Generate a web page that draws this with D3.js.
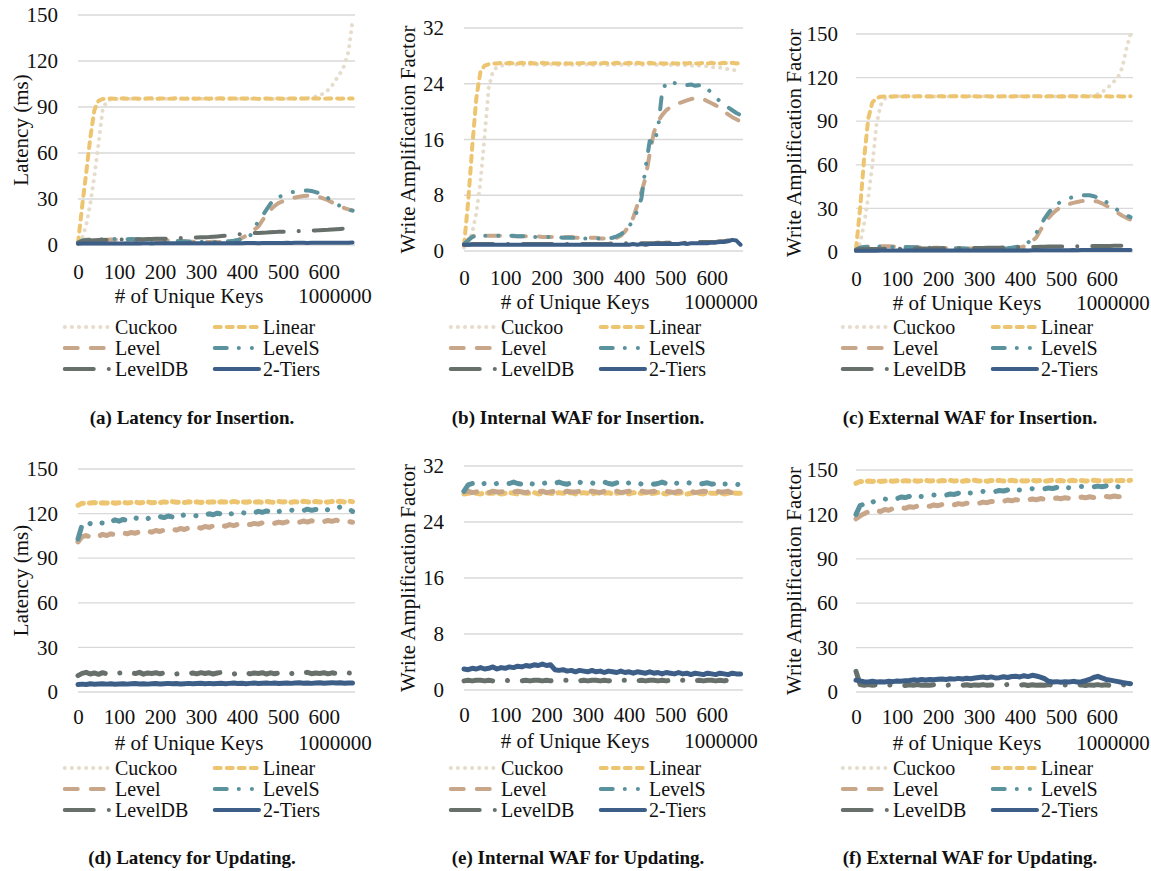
<!DOCTYPE html>
<html>
<head>
<meta charset="utf-8">
<script src="https://cdn.jsdelivr.net/npm/d3@7"></script>
<style>
  body { margin: 0; background: #fff; }
  text { font-family: "Liberation Serif", "Times New Roman", serif; fill: #111; }
</style>
</head>
<body>
<div id="chart"></div>
<script>
// x categories (# of unique keys, in units of 1000000)
var keys = [0,10,20,30,40,50,60,70,80,90,
  100,110,120,130,140,150,160,170,180,190,
  200,210,220,230,240,250,260,270,280,290,
  300,310,320,330,340,350,360,370,380,390,
  400,410,420,430,440,450,460,470,480,490,
  500,510,520,530,540,550,560,570,580,590,
  600,610,620,630,640,650,660,670];

var seriesNames = ["Cuckoo", "Linear", "Level", "LevelS", "LevelDB", "2-Tiers"];
var xTicks = [0, 100, 200, 300, 400, 500, 600];
var latTicks = [0, 30, 60, 90, 120, 150];
var wafTicks = [0, 8, 16, 24, 32];

// (a) latency for insertion
var aCuckoo = [2,4,13,27,45,66,88,94,95,95.2,
  95.3,95.2,95.4,95.3,95.2,95.4,95.3,95.2,95.3,95.4,
  95.3,95.2,95.4,95.3,95.2,95.3,95.4,95.3,95.2,95.3,
  95.4,95.3,95.2,95.3,95.4,95.3,95.2,95.3,95.4,95.3,
  95.2,95.3,95.4,95.3,95.2,95.3,95.4,95.3,95.2,95.3,
  95.4,95.3,95.3,95.4,95.5,95.6,95.8,96.2,96.8,97.6,
  99,101,104,108,112,117,126,146];
var aLinear = [1,25,47,70,88,94,95.2,95.5,95.6,95.4,
  95.5,95.7,95.4,95.6,95.5,95.4,95.6,95.5,95.7,95.4,
  95.5,95.6,95.4,95.5,95.7,95.5,95.4,95.6,95.5,95.4,
  95.6,95.5,95.4,95.6,95.5,95.7,95.4,95.5,95.6,95.4,
  95.5,95.6,95.4,95.5,95.3,95.5,95.6,95.4,95.5,95.6,
  95.4,95.5,95.6,95.5,95.4,95.6,95.5,95.4,95.6,95.5,
  95.4,95.6,95.5,95.6,95.4,95.5,95.6,95.5];
var aLevel = [1,3,3.5,3.5,3.6,3.5,3.4,3.5,3.6,3.5,
  3.5,3.4,3.5,3.6,3.5,3.4,3.3,3.4,3.5,3.4,
  3.3,3.2,3.0,2.8,2.6,2.4,2.3,2.2,2.2,2.1,
  2.1,2.0,2.0,2.1,2.0,2.0,2.1,2.3,2.6,3.2,
  4.6,6,8,10,12,16,20,23,25.5,27.5,
  28.5,29.6,30.4,31.0,31.5,31.9,32.2,32.2,31.9,31.2,
  30.3,29.2,27.8,26.5,25.2,24.1,23.2,22.6];
var aLevelS = [1.5,3,3.2,3.4,3.5,3.6,3.7,3.8,3.8,3.9,
  3.9,3.9,3.8,3.9,3.8,3.7,3.6,3.5,3.3,3.1,
  3.0,2.9,2.8,2.7,2.6,2.5,2.4,2.3,2.2,2.2,
  2.1,2.0,2.0,2.0,2.0,2.1,2.3,2.5,2.8,3.2,
  3.8,4.2,6,10,16,19,23,27,30,31.3,
  32.4,33.5,34.3,34.8,35.1,35.4,35.6,35.2,34.5,33.6,
  32.3,30.6,28.7,27,25.3,24,22.9,22.4];
var aLevelDB = [1.5,2.5,3,3,3.1,3.2,3.3,3.3,3.4,3.5,
  3.5,3.6,3.6,3.7,3.7,3.8,3.8,3.9,3.9,4.0,
  4.0,4.1,4.2,4.3,4.4,4.5,4.6,4.7,4.8,4.9,
  5.0,5.1,5.2,5.4,5.6,5.8,6.0,6.3,6.6,6.9,
  7.2,7.4,7.6,7.8,7.9,8.0,8.1,8.3,8.4,8.6,
  8.7,8.8,8.9,9.0,9.1,9.2,9.3,9.4,9.5,9.7,
  9.8,9.9,10.1,10.3,10.5,10.7,10.9,11.1];
var aTiers = [0.8,0.9,0.9,0.9,1.0,1.0,1.0,1.0,1.0,1.0,
  1.0,1.0,1.1,1.0,1.1,1.0,1.1,1.1,1.0,1.1,
  1.1,1.1,1.1,1.1,1.1,1.2,1.1,1.1,1.2,1.1,
  1.2,1.2,1.1,1.2,1.2,1.2,1.2,1.2,1.2,1.3,
  1.2,1.3,1.3,1.3,1.2,1.3,1.3,1.3,1.3,1.3,
  1.3,1.4,1.3,1.4,1.4,1.4,1.3,1.4,1.4,1.4,
  1.4,1.5,1.4,1.5,1.5,1.5,1.5,1.6];

// (b) internal WAF for insertion
var bCuckoo = [0.5,1.0,2.6,5.5,10,16.5,23.5,25.8,26.4,26.6,
  26.7,26.8,26.7,26.8,26.7,26.7,26.8,26.7,26.8,26.7,
  26.7,26.8,26.7,26.7,26.8,26.7,26.7,26.8,26.7,26.7,
  26.8,26.7,26.7,26.8,26.7,26.7,26.8,26.7,26.7,26.8,
  26.7,26.7,26.8,26.7,26.7,26.8,26.7,26.7,26.7,26.8,
  26.7,26.7,26.7,26.6,26.7,26.6,26.6,26.6,26.5,26.5,
  26.4,26.3,26.3,26.2,26.1,26.0,25.9,25.8];
var bLinear = [0.8,7,15,22,25.8,26.6,26.8,26.9,26.9,27.0,
  26.9,27.0,26.9,26.9,27.0,26.9,27.0,26.9,26.9,27.0,
  26.9,27.0,26.9,26.9,27.0,26.9,26.9,27.0,26.9,27.0,
  26.9,26.9,27.0,26.9,27.0,26.9,26.9,27.0,26.9,26.9,
  27.0,26.9,27.0,26.9,26.9,27.0,26.9,27.0,26.9,26.9,
  27.0,26.9,26.9,27.0,26.9,27.0,26.9,26.9,27.0,26.9,
  27.0,26.9,26.9,27.0,26.9,27.0,26.9,27.0];
var bLevel = [1.0,1.6,2.1,2.2,2.2,2.2,2.2,2.2,2.2,2.2,
  2.2,2.2,2.1,2.1,2.1,2.1,2.1,2.1,2.1,2.0,
  2.0,2.0,2.0,2.0,2.0,2.0,2.0,1.9,1.9,1.9,
  1.9,1.9,1.9,1.8,1.8,1.8,1.8,1.9,2.2,2.8,
  3.6,4.8,6.6,8.5,10.5,14,17,18.6,19.5,20.2,
  20.6,20.9,21.2,21.4,21.6,21.8,21.9,21.9,21.8,21.5,
  21.2,20.9,20.5,20.0,19.6,19.2,18.9,18.6];
var bLevelS = [1.0,1.5,2.0,2.2,2.2,2.2,2.2,2.3,2.2,2.2,
  2.2,2.2,2.2,2.1,2.1,2.1,2.1,2.0,2.0,2.0,
  2.0,2.0,2.0,2.0,1.9,1.9,1.9,1.9,1.9,1.8,
  1.8,1.8,1.8,1.8,1.7,1.8,1.9,2.1,2.4,2.9,
  3.5,4.5,5.8,7.6,12,15.8,15.4,17.5,22.8,24.2,
  24.4,24.1,23.9,24.0,23.8,23.9,23.7,23.8,23.5,23.3,
  22.6,22.0,21.5,21.0,20.6,20.2,19.8,19.5];
var bLevelDB = [0.9,0.9,1.0,1.0,1.0,1.0,1.0,1.0,1.0,1.0,
  1.0,1.0,1.0,1.0,1.0,1.0,1.0,1.0,1.0,1.0,
  1.0,1.0,1.0,1.0,1.0,1.0,1.0,1.0,1.0,1.0,
  1.0,1.0,1.0,1.0,1.0,1.0,1.1,1.0,1.1,1.1,
  1.1,1.1,1.1,1.1,1.1,1.1,1.1,1.2,1.1,1.2,
  1.2,1.2,1.2,1.2,1.2,1.3,1.2,1.3,1.3,1.3,
  1.3,1.3,1.4,1.4,1.5,1.5,1.4,1.2];
var bTiers = [0.9,0.9,0.9,0.9,0.9,0.9,0.9,0.9,0.9,0.9,
  0.9,0.9,0.9,0.9,0.9,0.9,0.9,0.9,0.9,0.9,
  0.9,0.9,0.9,0.9,0.9,0.9,0.9,0.9,0.9,0.9,
  0.9,0.9,0.9,0.9,0.9,0.9,0.9,0.9,0.9,0.9,
  0.9,1.0,0.9,1.0,0.9,1.0,1.0,1.0,1.0,1.0,
  1.0,1.0,1.0,1.1,1.0,1.1,1.1,1.1,1.1,1.1,
  1.2,1.2,1.3,1.3,1.4,1.6,1.5,0.9];

// (c) external WAF for insertion
var cCuckoo = [1,6,20,38,60,88,101,105.5,106.5,107,
  107.1,107.2,107.1,107.0,107.2,107.1,107.0,107.2,107.1,107.0,
  107.1,107.2,107.0,107.1,107.2,107.1,107.0,107.1,107.2,107.0,
  107.1,107.2,107.1,107.0,107.1,107.2,107.1,107.0,107.1,107.2,
  107.1,107.0,107.1,107.2,107.1,107.0,107.1,107.2,107.1,107.0,
  107.1,107.2,107.1,107.1,107.2,107.2,107.3,107.4,107.5,108.5,
  110,112,114.5,117.5,120.5,127,140,150];
var cLinear = [2,30,65,92,103,106,106.8,107,107.1,107.0,
  107.1,107.0,107.2,107.1,107.0,107.1,107.2,107.0,107.1,107.0,
  107.2,107.1,107.0,107.1,107.2,107.0,107.1,107.0,107.2,107.1,
  107.0,107.1,107.2,107.0,107.1,107.0,107.2,107.1,107.0,107.1,
  107.2,107.0,107.1,107.0,107.2,107.1,107.0,107.1,107.2,107.0,
  107.1,107.0,107.2,107.1,107.0,107.1,107.2,107.0,107.1,107.0,
  107.2,107.1,107.0,107.1,107.2,107.0,107.1,107.2];
var cLevel = [1,3,3.5,3.8,4,4,4,4,3.9,3.8,
  3.7,3.6,3.5,3.4,3.3,3.2,3.1,3.0,3.0,2.9,
  2.9,2.8,2.8,2.7,2.6,2.6,2.5,2.4,2.4,2.3,
  2.3,2.2,2.2,2.2,2.1,2.1,2.2,2.3,2.5,2.8,
  3.2,3.8,4.8,7.5,10,15,19.5,23.5,26.5,29,
  30.8,32,33,33.8,34.4,35,35.3,35.4,35.2,34.7,
  33.5,32,30.2,28.5,26.7,25,23.5,22.2];
var cLevelS = [1.5,3,3.5,3.5,3.6,3.7,3.7,3.6,3.6,3.5,
  3.5,3.4,3.4,3.3,3.3,3.2,3.1,3.0,2.9,2.8,
  2.8,2.7,2.6,2.6,2.5,2.5,2.4,2.3,2.3,2.2,
  2.2,2.2,2.1,2.1,2.1,2.2,2.3,2.6,3.0,3.4,
  3.8,4.5,6.5,9.5,13,18,23,27,30.5,32.8,
  34.6,36,37,37.8,38.4,38.9,39.1,39.0,38.4,37.5,
  36.2,34.6,32.8,30.7,28.5,26.7,25.2,24.0];
var cLevelDB = [1.5,2,2,2,2.1,2.1,2.1,2.2,2.2,2.2,
  2.2,2.3,2.3,2.3,2.3,2.4,2.4,2.4,2.4,2.5,
  2.5,2.5,2.5,2.6,2.6,2.6,2.7,2.7,2.7,2.8,
  2.8,2.8,2.9,2.9,3.0,3.0,3.1,3.1,3.2,3.2,
  3.3,3.3,3.4,3.5,3.5,3.6,3.6,3.7,3.7,3.8,
  3.8,3.8,3.9,3.9,3.9,4.0,4.0,4.0,4.1,4.1,
  4.1,4.2,4.2,4.3,4.3,4.4,4.4,4.5];
var cTiers = [0.8,0.9,0.9,0.9,0.9,0.9,1.0,1.0,1.0,1.0,
  1.0,1.0,1.0,1.0,1.0,1.0,1.0,1.0,1.0,1.0,
  1.0,1.0,1.0,1.0,1.0,1.1,1.0,1.1,1.0,1.1,
  1.1,1.1,1.1,1.1,1.1,1.1,1.1,1.1,1.1,1.1,
  1.1,1.2,1.1,1.2,1.2,1.2,1.2,1.2,1.2,1.2,
  1.2,1.2,1.2,1.3,1.2,1.3,1.3,1.3,1.3,1.3,
  1.3,1.3,1.3,1.3,1.3,1.4,1.3,1.4];

// (d) latency for updating
var dCuckoo = [];
var dLinear = [125.5,127,126.8,127.2,127.4,126.9,127.3,127.1,127.6,127.0,
  127.3,127.6,127.1,127.4,127.8,127.2,127.5,127.9,127.3,127.6,
  127.4,127.9,127.5,128.1,127.6,127.8,127.4,128.0,127.6,127.9,
  127.5,128.1,127.7,127.9,127.4,128.0,127.8,127.5,128.2,127.7,
  127.9,127.6,128.1,127.7,128.0,127.5,128.2,127.8,127.6,128.1,
  127.8,128.2,127.6,128.0,127.7,128.3,127.9,127.6,128.2,127.8,
  128.1,127.7,128.2,127.9,128.3,127.8,128.4,128.0];
var dLevel = [101,104.5,105.2,104.3,105.6,104.8,106.0,105.3,106.4,105.7,
  106.2,107.0,106.4,107.3,106.8,107.8,107.1,108.2,107.5,108.6,
  108.0,109.0,108.4,109.5,108.9,110.0,109.3,110.4,109.8,110.9,
  110.2,111.3,110.7,111.8,111.1,112.1,111.5,112.6,111.9,112.8,
  112.2,113.1,112.6,113.4,112.9,113.8,113.2,114.0,113.5,114.3,
  113.7,114.5,113.9,114.8,114.1,115.0,114.3,115.2,114.5,115.3,
  114.6,115.4,114.8,115.6,114.9,115.5,114.7,114.2];
var dLevelS = [103,112.5,114.5,113.2,115.0,114.1,113.6,115.4,114.3,115.8,
  114.9,116.1,115.3,116.5,117.2,116.0,117.4,116.6,117.9,117.1,
  118.0,117.3,118.4,117.7,118.8,118.1,119.3,118.5,119.1,118.4,
  119.5,118.8,119.9,119.2,120.3,119.6,120.1,119.4,120.6,119.9,
  120.8,120.1,121.2,120.5,121.5,120.9,121.8,121.1,122.1,121.4,
  122.0,121.3,122.4,121.7,122.6,122.0,123.0,122.2,122.8,122.1,
  123.1,122.5,123.4,122.8,124.6,122.9,123.3,121.5];
var dLevelDB = [11,12.5,13.2,12.1,12.8,11.9,13.0,12.3,12.9,12.0,
  12.7,13.1,12.2,12.9,12.4,13.2,12.0,12.8,12.5,13.0,
  12.2,12.9,12.4,13.1,12.1,12.7,13.0,12.3,12.8,12.2,
  13.0,12.4,12.9,12.1,12.8,13.2,12.3,12.7,12.0,12.9,
  12.4,13.1,12.2,12.8,12.5,13.0,12.1,12.9,12.3,12.8,
  12.2,13.1,12.4,12.9,12.0,12.7,13.2,12.3,12.8,12.5,
  13.0,12.2,12.9,12.4,13.1,12.3,12.8,12.5];
var dTiers = [5.0,5.3,5.1,5.5,5.2,5.4,5.6,5.3,5.5,5.2,
  5.4,5.6,5.3,5.5,5.7,5.4,5.6,5.3,5.5,5.7,
  5.4,5.6,5.8,5.5,5.7,5.4,5.6,5.8,5.5,5.7,
  5.9,5.6,5.8,5.5,5.7,5.9,5.6,5.8,6.0,5.7,
  5.9,5.6,5.8,6.0,5.7,5.9,6.1,5.8,6.0,5.7,
  5.9,6.1,5.8,6.0,6.2,5.9,6.1,5.8,6.0,6.2,
  5.9,6.1,6.3,6.0,6.2,5.9,6.1,6.0];

// (e) internal WAF for updating
var eCuckoo = [];
var eLinear = [28.0,28.1,28.2,28.1,28.0,28.2,28.1,28.1,28.2,28.0,
  28.1,28.2,28.1,28.0,28.2,28.1,28.1,28.2,28.0,28.1,
  28.2,28.1,28.0,28.2,28.1,28.1,28.2,28.0,28.1,28.2,
  28.1,28.0,28.2,28.1,28.1,28.2,28.0,28.1,28.2,28.1,
  28.0,28.2,28.1,28.1,28.2,28.0,28.1,28.2,28.1,28.0,
  28.2,28.1,28.1,28.2,28.0,28.1,28.2,28.1,28.0,28.2,
  28.1,28.1,28.2,28.0,28.1,28.2,28.1,28.1];
var eLevel = [28.3,28.4,28.2,28.3,28.4,28.3,28.2,28.4,28.3,28.3,
  28.4,28.2,28.3,28.4,28.3,28.2,28.4,28.3,28.3,28.4,
  28.2,28.3,28.4,28.3,28.2,28.4,28.3,28.3,28.4,28.2,
  28.3,28.4,28.3,28.2,28.4,28.3,28.3,28.4,28.2,28.3,
  28.4,28.3,28.2,28.4,28.3,28.3,28.4,28.2,28.3,28.4,
  28.3,28.2,28.4,28.3,28.3,28.4,28.2,28.3,28.4,28.3,
  28.2,28.4,28.3,28.3,28.4,28.1,27.5,27.9];
var eLevelS = [28.4,29.3,29.5,29.6,29.4,29.5,29.7,29.4,29.5,29.6,
  29.4,29.5,29.7,29.5,29.4,29.6,29.5,29.4,29.7,29.5,
  29.6,29.4,29.5,29.7,29.5,29.4,29.6,29.5,29.7,29.4,
  29.5,29.6,29.4,29.5,29.7,29.5,29.4,29.6,29.5,29.4,
  29.6,29.5,29.7,29.4,29.5,29.6,29.4,29.5,29.7,29.5,
  29.4,29.6,29.5,29.4,29.7,29.5,29.6,29.4,29.5,29.6,
  29.4,29.5,29.6,29.4,29.5,29.6,29.4,29.3];
var eLevelDB = [1.3,1.4,1.3,1.4,1.4,1.3,1.4,1.3,1.4,1.3,
  1.4,1.3,1.4,1.4,1.3,1.4,1.3,1.4,1.4,1.3,
  1.4,1.3,1.4,1.3,1.4,1.4,1.3,1.4,1.3,1.4,
  1.3,1.4,1.4,1.3,1.4,1.3,1.4,1.3,1.4,1.4,
  1.3,1.4,1.3,1.4,1.3,1.4,1.4,1.3,1.4,1.3,
  1.4,1.3,1.4,1.4,1.3,1.4,1.3,1.4,1.3,1.4,
  1.4,1.3,1.4,1.3,1.4,1.3,1.4,1.3];
var eTiers = [3.0,2.9,3.1,3.0,3.2,3.0,3.1,3.3,3.0,3.2,
  3.1,3.3,3.2,3.4,3.3,3.5,3.4,3.6,3.5,3.7,
  3.5,3.6,2.9,2.8,2.9,2.7,2.8,2.6,2.8,2.7,
  2.6,2.8,2.6,2.7,2.5,2.7,2.6,2.5,2.7,2.5,
  2.6,2.4,2.6,2.5,2.4,2.6,2.4,2.5,2.3,2.5,
  2.4,2.3,2.5,2.3,2.4,2.2,2.4,2.3,2.2,2.4,
  2.3,2.2,2.4,2.3,2.2,2.4,2.3,2.3];

// (f) external WAF for updating
var fCuckoo = [];
var fLinear = [141,142.3,142.0,142.6,142.2,142.8,142.3,142.5,142.9,142.4,
  142.7,142.3,142.8,142.5,142.9,142.4,142.7,143.0,142.5,142.8,
  142.4,142.9,142.6,143.0,142.5,142.8,142.4,142.9,142.6,143.1,
  142.5,142.8,142.4,142.9,142.6,143.0,142.5,142.8,143.1,142.6,
  142.9,142.5,142.8,143.0,142.6,142.9,142.5,142.8,143.1,142.7,
  142.9,142.5,142.8,143.0,142.6,142.9,142.5,142.8,143.1,142.7,
  142.9,142.6,142.8,143.1,142.7,142.9,142.6,143.0];
var fLevel = [117,119,120.5,121.8,121.2,122.6,122.0,123.3,122.8,124.0,
  123.5,124.6,124.1,125.2,124.8,125.6,125.1,126.0,125.5,126.4,
  125.9,126.7,126.2,127.0,126.5,127.3,126.8,127.6,127.1,127.9,
  127.5,128.3,127.9,128.8,128.3,129.2,128.8,129.7,129.2,130.0,
  129.5,130.2,129.7,130.4,129.9,130.7,130.2,130.9,130.4,131.1,
  130.6,131.3,130.8,131.5,131.0,131.7,131.2,131.9,131.4,132.1,
  131.6,132.2,131.8,132.4,131.9,132.3,131.8,132.0];
var fLevelS = [120,126,127,128.6,128.2,129.6,129.0,130.4,130.0,131.2,
  130.6,131.8,131.4,132.2,131.8,132.6,132.1,132.8,132.4,133.1,
  132.7,133.4,133.0,133.8,133.5,134.3,133.9,134.7,134.4,135.2,
  134.8,135.5,135.1,135.9,135.5,136.2,135.8,136.5,136.1,136.8,
  136.4,137.1,136.7,137.4,137.0,137.7,137.3,137.9,137.5,138.2,
  137.8,138.4,138.0,138.6,138.2,138.8,138.4,139.0,138.6,139.1,
  138.7,139.2,138.8,139.4,138.6,138.2,137.8,137.6];
var fLevelDB = [14,5,4.6,5.0,4.5,4.8,4.4,4.9,4.6,5.0,
  4.5,4.8,4.4,4.9,4.6,5.1,4.5,4.8,4.6,5.0,
  4.4,4.9,4.5,4.8,4.6,5.0,4.5,4.9,4.4,4.8,
  4.6,5.0,4.5,4.8,4.4,4.9,4.6,5.1,4.5,4.8,
  4.6,5.0,4.4,4.9,4.5,4.8,4.6,5.0,4.5,4.9,
  4.4,4.8,4.6,5.0,4.5,4.9,4.4,4.8,4.6,5.0,
  4.5,4.9,4.4,4.8,4.6,5.0,4.5,4.7];
var fTiers = [8,7.5,7.0,6.8,7.2,6.8,7.0,6.8,7.2,7.0,
  7.4,7.2,7.6,7.8,8.2,8.0,8.4,8.1,8.5,8.3,
  8.6,8.8,8.5,9.0,8.7,9.2,8.8,9.3,9.0,9.5,
  9.8,10.1,9.6,10.2,9.5,9.7,10.3,9.8,10.5,10.6,
  10.2,11.0,10.4,11.3,10.8,10.1,9.0,7.2,6.8,7.0,
  6.6,7.0,6.7,7.2,6.8,7.0,7.6,8.5,9.8,10.6,
  9.5,8.5,8.0,7.5,7.0,6.4,6.0,5.6];

// styles for each series
var colors = ["#e6dccb", "#edc470", "#c8a689", "#5a929e", "#68706b", "#3c5e87"];
var dashes = ["0.1,7", "6,6", "13,13", "12,12,0.1,13,0.1,13", "29,15,0.1,15", null];

var rows = [
  {tickPad: 19, legendY: [327, 348, 369], captionY: 417, lineW: 4},
  {tickPad: 17, legendY: [768, 789, 810], captionY: 857, lineW: 5}
];

var panels = [
  {caption: "(a) Latency for Insertion.", ylabel: "Latency (ms)", ticks: latTicks, titleOff: 57,
   series: [aCuckoo, aLinear, aLevel, aLevelS, aLevelDB, aTiers], left: 78, right: 355, top: 15, bottom: 245, row: 0},
  {caption: "(b) Internal WAF for Insertion.", ylabel: "Write Amplification Factor", ticks: wafTicks, titleOff: 56,
   series: [bCuckoo, bLinear, bLevel, bLevelS, bLevelDB, bTiers], left: 464, right: 743, top: 28, bottom: 251, row: 0},
  {caption: "(c) External WAF for Insertion.", ylabel: "Write Amplification Factor", ticks: latTicks, titleOff: 62,
   series: [cCuckoo, cLinear, cLevel, cLevelS, cLevelDB, cTiers], left: 856, right: 1133, top: 34, bottom: 252, row: 0},
  {caption: "(d) Latency for Updating.", ylabel: "Latency (ms)", ticks: latTicks, titleOff: 57,
   series: [dCuckoo, dLinear, dLevel, dLevelS, dLevelDB, dTiers], left: 78, right: 355, top: 469, bottom: 692, row: 1},
  {caption: "(e) Internal WAF for Updating.", ylabel: "Write Amplification Factor", ticks: wafTicks, titleOff: 56,
   series: [eCuckoo, eLinear, eLevel, eLevelS, eLevelDB, eTiers], left: 464, right: 743, top: 466, bottom: 690, row: 1},
  {caption: "(f) External WAF for Updating.", ylabel: "Write Amplification Factor", ticks: latTicks, titleOff: 62,
   series: [fCuckoo, fLinear, fLevel, fLevelS, fLevelDB, fTiers], left: 856, right: 1133, top: 470, bottom: 692, row: 1}
];

var svg = d3.select("#chart").append("svg")
    .attr("width", 1151)
    .attr("height", 871);

svg.append("rect").attr("width", 1151).attr("height", 871).attr("fill", "#fff");

panels.forEach(function(p) {
  var row = rows[p.row];
  var x = d3.scaleLinear().domain([0, 676]).range([p.left, p.right]);
  var y = d3.scaleLinear().domain([0, d3.max(p.ticks)]).range([p.bottom, p.top]);
  var g = svg.append("g");

  // gridlines
  g.selectAll(".grid").data(p.ticks).enter().append("line")
      .attr("x1", p.left).attr("x2", p.right)
      .attr("y1", function(d) { return y(d); })
      .attr("y2", function(d) { return y(d); })
      .attr("stroke", "#d9d9d9")
      .attr("stroke-width", 1.3);

  // y axis
  var ya = g.append("g")
      .attr("transform", "translate(" + p.left + ",0)")
      .call(d3.axisLeft(y).tickValues(p.ticks).tickSize(0).tickPadding(p.titleOff > 60 ? 18 : 20));
  ya.select(".domain").remove();
  ya.selectAll("text").style("font-size", "21px")
      .style("font-family", "'Liberation Serif', serif").attr("fill", "#111");

  // x axis
  var xa = g.append("g")
      .attr("transform", "translate(0," + p.bottom + ")")
      .call(d3.axisBottom(x).tickValues(xTicks).tickSize(0).tickPadding(row.tickPad));
  xa.select(".domain").remove();
  xa.selectAll("text").style("font-size", "21px")
      .style("font-family", "'Liberation Serif', serif").attr("fill", "#111");

  // axis titles
  g.append("text")
      .attr("transform", "translate(" + (p.left - p.titleOff) + "," + ((p.top + p.bottom) / 2) + ") rotate(-90)")
      .attr("text-anchor", "middle")
      .attr("dy", "0.35em")
      .style("font-size", "21px")
      .text(p.ylabel);
  g.append("text")
      .attr("x", p.left + 111).attr("y", p.bottom + 58)
      .attr("text-anchor", "middle")
      .style("font-size", "21px")
      .text("# of Unique Keys");
  g.append("text")
      .attr("x", p.left + 257).attr("y", p.bottom + 58)
      .attr("text-anchor", "middle")
      .style("font-size", "21px")
      .text("1000000");

  // series lines
  var line = d3.line()
      .x(function(d, i) { return x(keys[i]); })
      .y(function(d) { return y(d); });
  p.series.forEach(function(vals, k) {
    if (!vals.length) return;
    g.append("path")
        .datum(vals)
        .attr("d", line)
        .attr("fill", "none")
        .attr("stroke", colors[k])
        .attr("stroke-width", row.lineW)
        .attr("stroke-linecap", "round")
        .attr("stroke-linejoin", "round")
        .attr("stroke-dasharray", dashes[k]);
  });

  // legend, 3 rows x 2 columns
  seriesNames.forEach(function(name, k) {
    var col = k % 2, r = Math.floor(k / 2);
    var sx = p.left - 15 + col * 150;
    var ly = row.legendY[r];
    g.append("line")
        .attr("x1", sx + 1.75).attr("x2", sx + 46)
        .attr("y1", ly).attr("y2", ly)
        .attr("stroke", colors[k])
        .attr("stroke-width", 4)
        .attr("stroke-linecap", "round")
        .attr("stroke-dasharray", dashes[k]);
    g.append("text")
        .attr("x", p.left + 37 + col * 148)
        .attr("y", ly)
        .attr("dy", "0.35em")
        .style("font-size", "20px")
        .text(name);
  });

  // caption
  g.append("text")
      .attr("x", p.left + 114).attr("y", row.captionY)
      .attr("dy", "0.35em")
      .attr("text-anchor", "middle")
      .style("font-size", "19px")
      .style("font-weight", "bold")
      .text(p.caption);
});
</script>
</body>
</html>
